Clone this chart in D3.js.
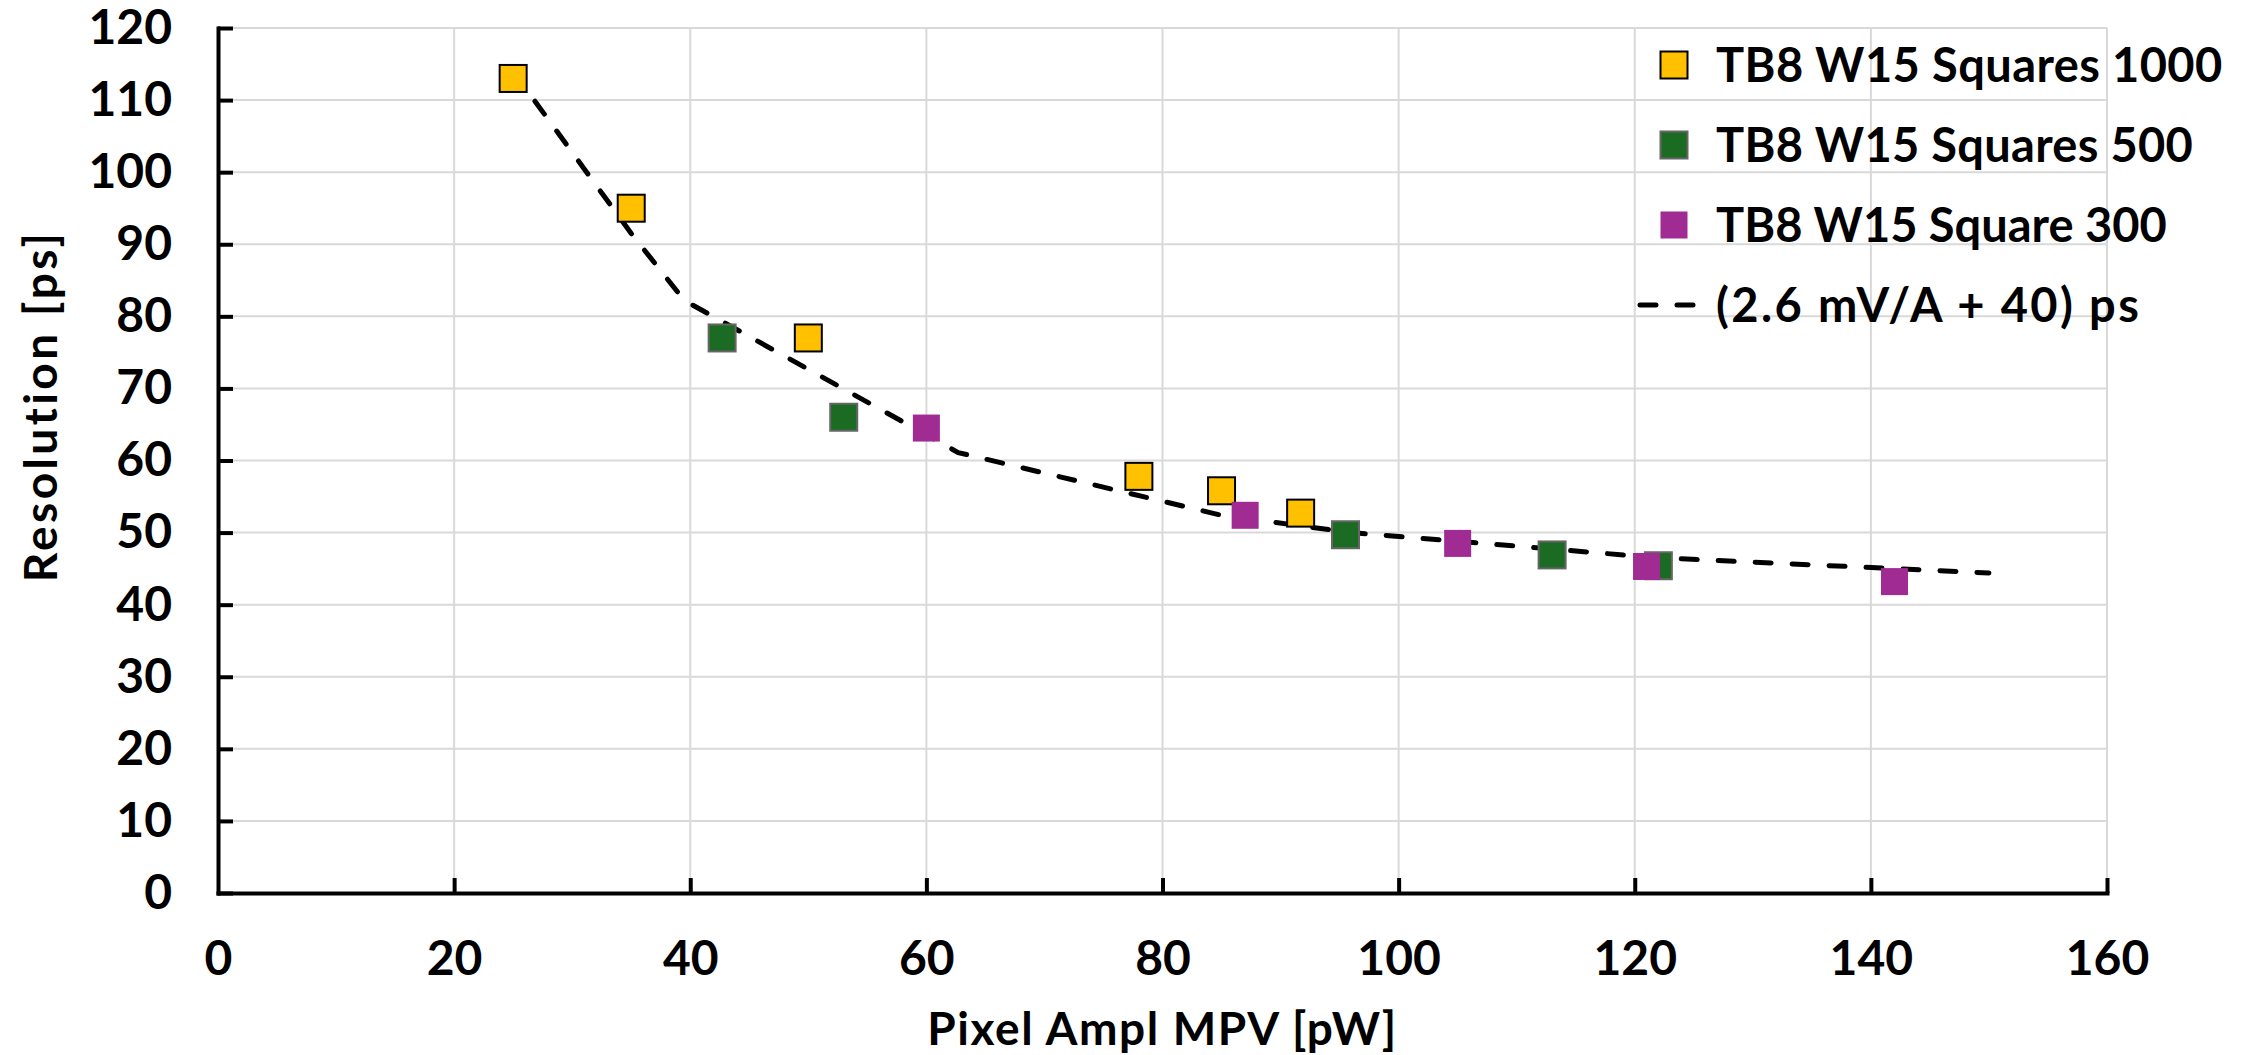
<!DOCTYPE html>
<html>
<head>
<meta charset="utf-8">
<script src="https://cdn.jsdelivr.net/npm/d3@7"></script>
<style>
  body { margin: 0; background: #fff; }
  svg text { font-family: "Lato", "DejaVu Sans", sans-serif; font-weight: 700; fill: #000; }
</style>
</head>
<body>
<div id="chart"></div>
<script>
// Values
const xTicks = [0, 20, 40, 60, 80, 100, 120, 140, 160];
const yTicks = [0, 10, 20, 30, 40, 50, 60, 70, 80, 90, 100, 110, 120];

const seriesNames = ["TB8 W15 Squares 1000", "TB8 W15 Squares 500", "TB8 W15 Square 300", "(2.6 mV/A + 40) ps"];

const x1000 = [25, 35, 50, 78, 85, 91.7];
const y1000 = [113, 95, 77, 57.8, 55.8, 52.7];

const x500 = [42.7, 53, 95.5, 113, 122];
const y500 = [77, 66, 49.7, 46.9, 45.4];

const x300 = [60, 87, 105, 121, 142];
const y300 = [64.5, 52.4, 48.5, 45.3, 43.2];

// dashed guide curve
const fitX = [25, 35, 39.5, 62.7, 85, 96, 122, 150];
const fitY = [114, 91.5, 82.2, 61.1, 52.4, 50.0, 46.5, 44.4];

// chart size
const W = 2252, H = 1055;
const margin = { top: 28, right: 145, bottom: 162, left: 218 };
const width = W - margin.left - margin.right;
const height = H - margin.top - margin.bottom;

const svg = d3.select("#chart").append("svg")
    .attr("width", W)
    .attr("height", H);

const g = svg.append("g")
    .attr("transform", `translate(${margin.left},${margin.top})`);

const x = d3.scaleLinear().domain([0, 160]).range([0, width]);
const y = d3.scaleLinear().domain([0, 120]).range([height, 0]);

// grid lines
g.append("g").selectAll("line")
    .data(yTicks.filter(d => d > 0))
    .enter().append("line")
    .attr("x1", 0).attr("x2", width)
    .attr("y1", d => y(d)).attr("y2", d => y(d))
    .attr("stroke", "#d9d9d9").attr("stroke-width", 2);

g.append("g").selectAll("line")
    .data(xTicks.filter(d => d > 0))
    .enter().append("line")
    .attr("y1", 0).attr("y2", height)
    .attr("x1", d => x(d)).attr("x2", d => x(d))
    .attr("stroke", "#d9d9d9").attr("stroke-width", 2);

// axes, ticks pointing inward
const yAxis = g.append("g")
    .call(d3.axisLeft(y).tickValues(yTicks).tickSize(-15).tickSizeOuter(0).tickPadding(46));

const xAxis = g.append("g")
    .attr("transform", `translate(0,${height})`)
    .call(d3.axisBottom(x).tickValues(xTicks).tickSize(-15).tickSizeOuter(0).tickPadding(48));

[yAxis, xAxis].forEach(ax => {
    ax.select(".domain").attr("stroke", "#000").attr("stroke-width", 4).attr("stroke-linecap", "square");
    ax.selectAll(".tick line").attr("stroke", "#000").attr("stroke-width", 4);
    ax.selectAll(".tick text")
        .style("font-family", "Lato, 'DejaVu Sans', sans-serif")
        .style("font-weight", 700)
        .style("font-size", "48px")
        .attr("fill", "#000");
});
xAxis.selectAll(".tick").filter(d => d === 0).select("line").remove();

// dashed curve
const fitData = fitX.map((v, i) => ({ x: v, y: fitY[i] }));
g.append("path")
    .datum(fitData)
    .attr("fill", "none")
    .attr("stroke", "#000")
    .attr("stroke-width", 5)
    .attr("stroke-linecap", "round")
    .attr("stroke-dasharray", "16 21")
    .attr("d", d3.line().x(d => x(d.x)).y(d => y(d.y)));

// markers
const S = 27;
const series = [
    { xs: x1000, ys: y1000, fill: "#FFC000", stroke: "#000", sw: 2 },
    { xs: x500, ys: y500, fill: "#1B6B23", stroke: "#666", sw: 2 },
    { xs: x300, ys: y300, fill: "#A02B93", stroke: "none", sw: 0 }
];

series.forEach(s => {
    g.append("g").selectAll("rect")
        .data(s.xs.map((v, i) => ({ x: v, y: s.ys[i] })))
        .enter().append("rect")
        .attr("x", d => x(d.x) - S / 2)
        .attr("y", d => y(d.y) - S / 2)
        .attr("width", S).attr("height", S)
        .attr("fill", s.fill)
        .attr("stroke", s.stroke)
        .attr("stroke-width", s.sw);
});

// axis titles
svg.append("text")
    .attr("x", margin.left + width / 2)
    .attr("y", 1045)
    .attr("text-anchor", "middle")
    .style("font-size", "46px")
    .style("letter-spacing", "1.6px")
    .text("Pixel Ampl MPV [pW]");

svg.append("text")
    .attr("transform", "translate(57,406) rotate(-90)")
    .attr("text-anchor", "middle")
    .style("font-size", "46px")
    .style("letter-spacing", "3.4px")
    .text("Resolution [ps]");

// legend
const legend = svg.append("g");
const rowY = [65, 145, 225, 305];
const rowSpacing = [0.4, 0.3, 0, 2.4];
series.forEach((s, i) => {
    legend.append("rect")
        .attr("x", 1674 - S / 2).attr("y", rowY[i] - S / 2)
        .attr("width", S).attr("height", S)
        .attr("fill", s.fill).attr("stroke", s.stroke).attr("stroke-width", s.sw);
});
legend.append("line")
    .attr("x1", 1640).attr("x2", 1700)
    .attr("y1", rowY[3]).attr("y2", rowY[3])
    .attr("stroke", "#000").attr("stroke-width", 5)
    .attr("stroke-linecap", "round")
    .attr("stroke-dasharray", "16 21");
seriesNames.forEach((n, i) => {
    legend.append("text")
        .attr("x", 1716)
        .attr("y", rowY[i] + 17)
        .style("font-size", "47px")
        .style("letter-spacing", rowSpacing[i] + "px")
        .text(n);
});
</script>
</body>
</html>
